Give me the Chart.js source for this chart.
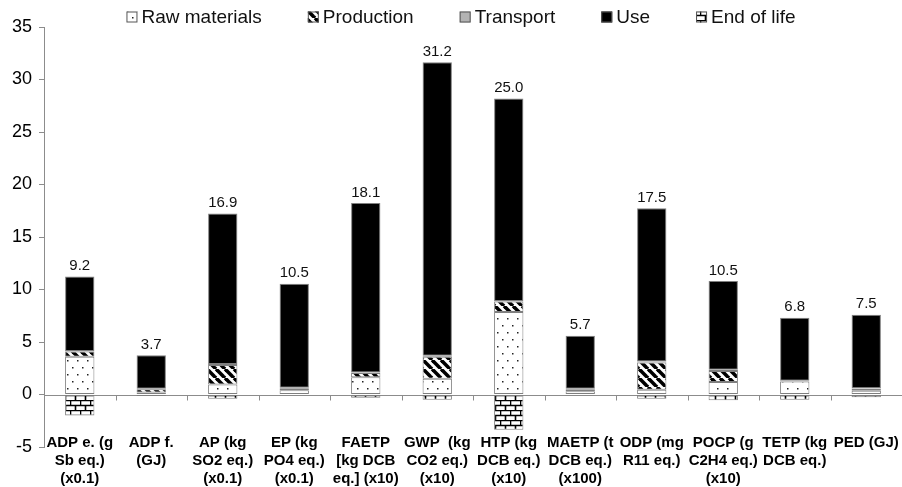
<!DOCTYPE html>
<html>
<head>
<meta charset="utf-8">
<script src="https://cdn.jsdelivr.net/npm/chart.js@4.4.1/dist/chart.umd.min.js"></script>
<style>
  html, body { margin: 0; padding: 0; background: #fff; }
</style>
</head>
<body>
<canvas id="chart" width="902" height="487"></canvas>
<script>
// categories (multi-line tick labels)
const categories = [
  ["ADP e. (g", "Sb eq.)", "(x0.1)"],
  ["ADP f.", "(GJ)"],
  ["AP (kg", "SO2 eq.)", "(x0.1)"],
  ["EP (kg", "PO4 eq.)", "(x0.1)"],
  ["FAETP", "[kg DCB", "eq.] (x10)"],
  ["GWP  (kg", "CO2 eq.)", "(x10)"],
  ["HTP (kg", "DCB eq.)", "(x10)"],
  ["MAETP (t", "DCB eq.)", "(x100)"],
  ["ODP (mg", "R11 eq.)"],
  ["POCP (g", "C2H4 eq.)", "(x10)"],
  ["TETP (kg", "DCB eq.)"],
  ["PED (GJ)"],
];

// life cycle stages
const rawMaterials = [3.6, 0.2, 0.95, 0.4, 1.65, 1.5, 7.85, 0.3, 0.45, 1.2, 1.25, 0.35];
const production   = [0.5, 0.3, 1.85, 0.2, 0.4, 2.1, 1.0, 0.2, 2.6, 1.05, 0.0, 0.2];
const transport    = [0.05, 0.05, 0.1, 0.05, 0.05, 0.1, 0.05, 0.05, 0.1, 0.1, 0.05, 0.05];
const use          = [7.1, 3.2, 14.35, 9.9, 16.15, 27.95, 19.3, 5.05, 14.6, 8.45, 6.0, 7.0];
const endOfLife    = [-2.0, -0.15, -0.4, -0.1, -0.3, -0.5, -3.35, -0.1, -0.4, -0.55, -0.5, -0.25];

// net totals printed above the bars
const netTotals = [9.2, 3.7, 16.9, 10.5, 18.1, 31.2, 25.0, 5.7, 17.5, 10.5, 6.8, 7.5];

const stageNames = ["Raw materials", "Production", "Transport", "Use", "End of life"];

const FONT = '"Liberation Sans", Arial, sans-serif';
const EDGE = "#7f7f7f";

// fill patterns like the old excel ones
function makePattern(kind) {
  const c = document.createElement("canvas");
  const g = c.getContext("2d");
  if (kind === "dots") {
    c.width = 10; c.height = 14;
    g.fillStyle = "#fff"; g.fillRect(0, 0, 10, 14);
    g.fillStyle = "#222";
    g.fillRect(2, 3, 1.5, 1.5);
    g.fillRect(7, 10, 1.5, 1.5);
  } else if (kind === "stripes") {
    c.width = 9; c.height = 9;
    g.fillStyle = "#fff"; g.fillRect(0, 0, 9, 9);
    g.strokeStyle = "#000"; g.lineWidth = 3.6;
    [-9, 0, 9].forEach((k) => {
      g.beginPath(); g.moveTo(k, 0); g.lineTo(k + 9, 9); g.stroke();
    });
  } else if (kind === "bricks") {
    c.width = 10; c.height = 10;
    g.fillStyle = "#fff"; g.fillRect(0, 0, 10, 10);
    g.strokeStyle = "#000"; g.lineWidth = 1.6;
    g.beginPath();
    g.moveTo(0, 0.5); g.lineTo(10, 0.5);
    g.moveTo(0, 5.5); g.lineTo(10, 5.5);
    g.moveTo(0.5, 0); g.lineTo(0.5, 5);
    g.moveTo(5.5, 5); g.lineTo(5.5, 10);
    g.stroke();
  }
  return document.createElement("canvas").getContext("2d").createPattern(c, "repeat");
}

const fills = [makePattern("dots"), makePattern("stripes"), "#b3b3b3", "#000", makePattern("bricks")];
const series = [rawMaterials, production, transport, use, endOfLife];

// zero line plus little tick marks between categories
const zeroLine = {
  id: "zeroLine",
  beforeDatasetsDraw(chart) {
    const { ctx, chartArea, scales } = chart;
    const y0 = Math.round(scales.y.getPixelForValue(0)) + 0.5;
    const step = scales.x.getPixelForValue(1) - scales.x.getPixelForValue(0);
    ctx.save();
    ctx.strokeStyle = "#8c8c8c";
    ctx.lineWidth = 1;
    ctx.beginPath();
    ctx.moveTo(chartArea.left, y0);
    ctx.lineTo(chartArea.right, y0);
    for (let i = 0; i <= categories.length; i++) {
      const x = Math.round(scales.x.getPixelForValue(i) - step / 2) + 0.5;
      ctx.moveTo(x, y0);
      ctx.lineTo(x, y0 + 5);
    }
    ctx.stroke();
    ctx.restore();
  },
};

// category names sit low, level with the -5 tick (excel "low" label position)
const categoryLabels = {
  id: "categoryLabels",
  afterDraw(chart) {
    const { ctx, chartArea, scales } = chart;
    ctx.save();
    ctx.font = "bold 15px " + FONT;
    ctx.fillStyle = "#000";
    ctx.textAlign = "center";
    ctx.textBaseline = "middle";
    categories.forEach((lines, i) => {
      const x = scales.x.getPixelForValue(i);
      lines.forEach((line, k) => {
        ctx.fillText(line, x, chartArea.bottom - 4 + k * 18);
      });
    });
    ctx.restore();
  },
};

// net value on top of each bar
const totalLabels = {
  id: "totalLabels",
  afterDatasetsDraw(chart) {
    const { ctx } = chart;
    const meta = chart.getDatasetMeta(3);
    ctx.save();
    ctx.font = "15px " + FONT;
    ctx.fillStyle = "#111";
    ctx.textAlign = "center";
    ctx.textBaseline = "bottom";
    meta.data.forEach((bar, i) => {
      ctx.fillText(netTotals[i].toFixed(1), bar.x, bar.y - 3);
    });
    ctx.restore();
  },
};

// legend with wide gaps between items
const stageLegend = {
  id: "stageLegend",
  afterDraw(chart) {
    const { ctx } = chart;
    const box = 11, gap = 46, textGap = 4, yMid = 17;
    ctx.save();
    ctx.font = "19px " + FONT;
    ctx.textBaseline = "middle";
    const widths = stageNames.map((n) => box + textGap + ctx.measureText(n).width);
    const total = widths.reduce((a, b) => a + b, 0) + gap * (stageNames.length - 1);
    let x = chart.width / 2 + 10 - total / 2;
    stageNames.forEach((name, i) => {
      ctx.fillStyle = fills[i];
      ctx.fillRect(x, yMid - box / 2, box, box);
      ctx.strokeStyle = "#555";
      ctx.lineWidth = 1;
      ctx.strokeRect(x + 0.5, yMid - box / 2 + 0.5, box - 1, box - 1);
      ctx.fillStyle = "#111";
      ctx.fillText(name, x + box + textGap, yMid + 1);
      x += widths[i] + gap;
    });
    ctx.restore();
  },
};

new Chart(document.getElementById("chart"), {
  type: "bar",
  data: {
    labels: categories,
    datasets: series.map((values, i) => ({
      label: stageNames[i],
      data: values,
      backgroundColor: fills[i],
      borderColor: EDGE,
      borderWidth: 1,
      borderSkipped: false,
      barPercentage: 0.41,
      categoryPercentage: 1,
    })),
  },
  options: {
    responsive: false,
    animation: false,
    layout: { padding: { top: 27, left: 0, right: 0, bottom: 0 } },
    scales: {
      x: {
        stacked: true,
        afterFit(scale) {
          scale.height = 40;
        },
        grid: { display: false, drawTicks: false },
        border: { display: false },
        ticks: { display: false },
      },
      y: {
        stacked: true,
        min: -5,
        max: 35,
        afterFit(scale) {
          scale.width = 44;
        },
        ticks: {
          stepSize: 5,
          padding: 7,
          color: "#000",
          font: { family: FONT, size: 18 },
        },
        grid: { drawOnChartArea: false, tickLength: 5, color: "#8c8c8c" },
        border: { color: "#8c8c8c" },
      },
    },
    plugins: {
      legend: { display: false },
      tooltip: { enabled: false },
    },
  },
  plugins: [zeroLine, totalLabels, categoryLabels, stageLegend],
});
</script>
</body>
</html>
